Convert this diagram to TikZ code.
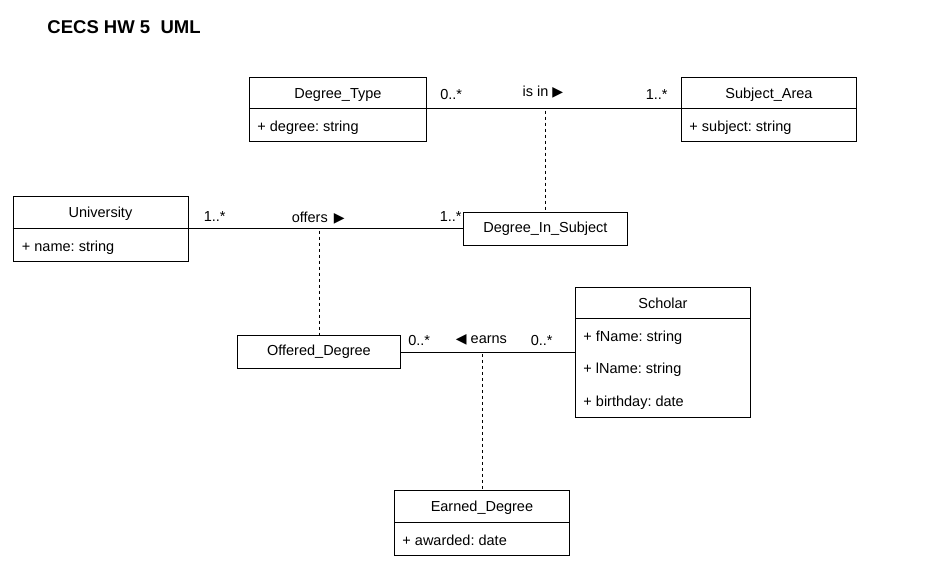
\documentclass[tikz,border=0pt]{standalone}
\usepackage{fontspec}
\setmainfont{Liberation Sans}
\newfontfamily\symfont{DejaVu Sans}
\usetikzlibrary{positioning}

\newcommand{\rtri}{{\symfont\fontsize{14}{16}\selectfont ▶}}
\newcommand{\ltri}{{\symfont\fontsize{14}{16}\selectfont ◀}}
\frenchspacing

\begin{document}
\begin{tikzpicture}[x = 1pt, y = -1pt, line width = 0.9pt, font = \fontsize{14.5}{17}\selectfont]
	\tikzstyle{cls} = [rectangle, draw = black, anchor = north west, inner sep = 0pt]
	\tikzstyle{title} = [anchor = base, inner sep = 0pt]
	\tikzstyle{attr} = [anchor = base west, inner sep = 0pt]
	\tikzstyle{mult} = [inner sep = 0pt]
	\tikzstyle{role} = [anchor = base, inner sep = 0pt]
	\tikzstyle{link} = [dash pattern = on 3pt off 3pt]
	\useasboundingbox (0,0) rectangle (932,571);
	\node [anchor = base west, inner sep = 0pt, font = \bfseries\fontsize{18.5}{21}\selectfont] (head) at (47,33.5) {CECS HW 5\ \ UML};
	% classes
	\node [cls, minimum width = 177pt, minimum height = 64pt] (DT) at (249,76.5) {};
	\node [title] (DT-t) at ([yshift = -21.5pt]DT.north) {Degree\_Type};
	\draw ([yshift = -32pt]DT.north west) coordinate (DT-l) -- ([yshift = -32pt]DT.north east) coordinate (DT-r);
	\node [attr] (DT-a) at ([xshift = 8pt, yshift = -54.5pt]DT.north west) {+ degree: string};

	\node [cls, minimum width = 175pt, minimum height = 64pt] (SA) at (681,76.5) {};
	\node [title] (SA-t) at ([yshift = -21.5pt]SA.north) {Subject\_Area};
	\draw ([yshift = -32pt]SA.north west) coordinate (SA-l) -- ([yshift = -32pt]SA.north east) coordinate (SA-r);
	\node [attr] (SA-a) at ([xshift = 8pt, yshift = -54.5pt]SA.north west) {+ subject: string};

	\node [cls, minimum width = 175pt, minimum height = 65pt] (UN) at (12.5,195.5) {};
	\node [title] (UN-t) at ([yshift = -22pt]UN.north) {University};
	\draw ([yshift = -33pt]UN.north west) coordinate (UN-l) -- ([yshift = -33pt]UN.north east) coordinate (UN-r);
	\node [attr] (UN-a) at ([xshift = 9pt, yshift = -56pt]UN.north west) {+ name: string};

	\node [cls, minimum width = 164pt, minimum height = 33pt] (DIS) at (463,212) {Degree\_In\_Subject};
	\node [cls, minimum width = 163pt, minimum height = 33pt] (OD) at (237,335) {Offered\_Degree};

	\node [cls, minimum width = 175pt, minimum height = 130pt] (SC) at (575,286.5) {};
	\node [title] (SC-t) at ([yshift = -21.5pt]SC.north) {Scholar};
	\draw ([yshift = -32pt]SC.north west) coordinate (SC-l) -- ([yshift = -32pt]SC.north east) coordinate (SC-r);
	\node [attr] (SC-a1) at ([xshift = 8pt, yshift = -55pt]SC.north west) {+ fName: string};
	\node [attr] (SC-a2) at ([xshift = 8pt, yshift = -87pt]SC.north west) {+ lName: string};
	\node [attr] (SC-a3) at ([xshift = 8pt, yshift = -119.5pt]SC.north west) {+ birthday: date};

	\node [cls, minimum width = 175pt, minimum height = 65pt] (ED) at (394,489.5) {};
	\node [title] (ED-t) at ([yshift = -22pt]ED.north) {Earned\_Degree};
	\draw ([yshift = -33pt]ED.north west) coordinate (ED-l) -- ([yshift = -33pt]ED.north east) coordinate (ED-r);
	\node [attr] (ED-a) at ([xshift = 8pt, yshift = -55.5pt]ED.north west) {+ awarded: date};

	% associations
	\draw (DT-r) -- node (isin) [role, xshift = -11pt, yshift = 12.5pt] {is in \rtri}
		node (DT-m) [mult, pos = 0, anchor = base west, xshift = 13pt, yshift = 9pt] {0..*}
		node (SA-m) [mult, pos = 1, anchor = base east, xshift = -13pt, yshift = 9pt] {1..*} (DT-r -| SA-l);
	\draw (UN-r) -- node (offers) [role, xshift = -7.5pt, yshift = 6.5pt] {offers\hspace{6pt}\rtri}
		node (UN-m) [mult, pos = 0, anchor = base west, xshift = 15pt, yshift = 7pt] {1..*}
		node (DIS-m) [mult, pos = 1, anchor = base east, xshift = -1pt, yshift = 7pt] {1..*} (UN-r -| DIS.west);
	\coordinate (OD-r) at (OD.east);
	\draw (OD-r) -- node (earns) [role, xshift = -6.5pt, yshift = 8pt] {\ltri\ earns}
		node (OD-m) [mult, pos = 0, anchor = base west, xshift = 7pt, yshift = 6.5pt] {0..*}
		node (SC-m) [mult, pos = 1, anchor = base east, xshift = -22pt, yshift = 6.5pt] {0..*} (OD-r -| SC.west);

	% association classes
	\coordinate (isin-c) at (DIS.north |- DT-r);
	\coordinate (offers-c) at (OD.north |- UN-r);
	\coordinate (earns-c) at (ED.north |- OD-r);
	\draw [link] ([yshift = -2pt]isin-c) -- (DIS.north);
	\draw [link] ([yshift = -2pt]offers-c) -- (OD.north);
	\draw [link] ([yshift = -2pt]earns-c) -- (ED.north);
\end{tikzpicture}
\end{document}
